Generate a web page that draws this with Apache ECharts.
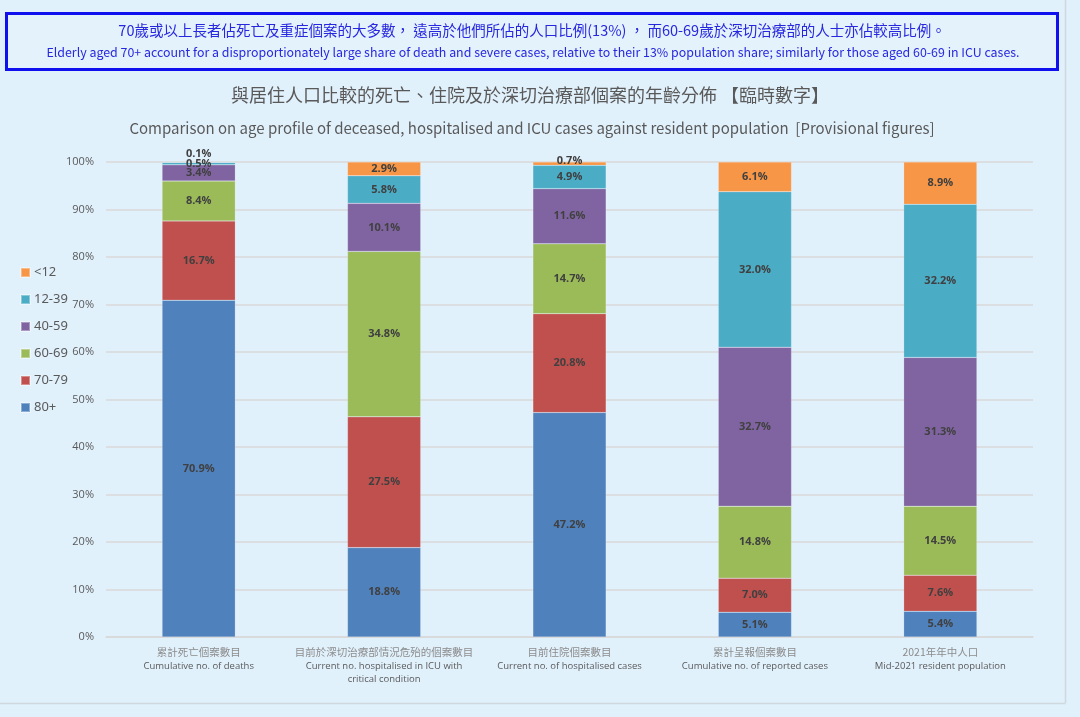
<!DOCTYPE html>
<html>
<head>
<meta charset="utf-8">
<script src="https://cdn.jsdelivr.net/npm/echarts@6/dist/echarts.min.js"></script>
<style>
html,body{margin:0;padding:0;background:#e1f1fc;}
#c{width:1080px;height:717px;}
</style>
</head>
<body>
<div id="c"></div>
<script>
const categoriesZh = ['累計死亡個案數目','目前於深切治療部情況危殆的個案數目','目前住院個案數目','累計呈報個案數目','2021年年中人口'];
const categoriesEn = ['Cumulative no. of deaths','Current no. hospitalised in ICU with\ncritical condition','Current no. of hospitalised cases','Cumulative no. of reported cases','Mid-2021 resident population'];
const ageGroups = ['80+','70-79','60-69','40-59','12-39','<12'];
const age80plus = [70.9, 18.8, 47.2, 5.1, 5.4];
const age70to79 = [16.7, 27.5, 20.8, 7.0, 7.6];
const age60to69 = [8.4, 34.8, 14.7, 14.8, 14.5];
const age40to59 = [3.4, 10.1, 11.6, 32.7, 31.3];
const age12to39 = [0.5, 5.8, 4.9, 32.0, 32.2];
const ageUnder12 = [0.1, 2.9, 0.7, 6.1, 8.9];
const yTicks = [0,10,20,30,40,50,60,70,80,90,100];

const seriesValues = [age80plus, age70to79, age60to69, age40to59, age12to39, ageUnder12];
const colors = ['#4f81bd','#c0504d','#9bbb59','#8064a2','#4bacc6','#f79646'];

// column totals for 100% stacking
const totals = categoriesZh.map((_, i) => seriesValues.reduce((s, arr) => s + arr[i], 0));

const chart = echarts.init(document.getElementById('c'));

const series = ageGroups.map((name, si) => ({
  name: name,
  type: 'bar',
  stack: 'total',
  barWidth: '39.5%',
  itemStyle: { color: colors[si], borderColor: 'rgba(255,255,255,0.35)', borderWidth: 0.5 },
  data: seriesValues[si].map((v, i) => {
    const item = { value: v / totals[i] * 100, raw: v };
    if (si === 5 && v < 1) {
      item.label = { position: 'top', distance: v < 0.3 ? 3 : -4 };
    }
    return item;
  }),
  label: {
    show: true,
    position: 'inside',
    color: '#404040',
    fontWeight: 'bold',
    fontSize: 11,
    fontFamily: 'Open Sans, Noto Sans, sans-serif',
    formatter: p => p.data.raw.toFixed(1) + '%'
  },
  emphasis: { disabled: true }
}));

const option = {
  backgroundColor: '#e1f1fc',
  animation: false,
  title: [
    {
      text: '與居住人口比較的死亡、住院及於深切治療部個案的年齡分佈 【臨時數字】',
      left: 525, top: 81, textAlign: 'center',
      textStyle: { color: '#595959', fontSize: 18, fontWeight: 'normal', fontFamily: 'Noto Sans CJK TC' }
    },
    {
      text: 'Comparison on age profile of deceased, hospitalised and ICU cases against resident population  [Provisional figures]',
      left: 527, top: 116, textAlign: 'center',
      textStyle: { color: '#595959', fontSize: 15, fontWeight: 'normal', fontFamily: 'Noto Sans CJK TC' }
    }
  ],
  legend: {
    orient: 'vertical',
    left: 15, top: 261,
    itemWidth: 9, itemHeight: 9, itemGap: 14,
    icon: 'rect',
    data: ['<12','12-39','40-59','60-69','70-79','80+'],
    textStyle: { color: '#595959', fontSize: 13, fontFamily: 'Noto Sans, sans-serif', padding: [0, 0, 0, -1] },
    selectedMode: false
  },
  grid: { left: 106, right: 47, top: 162, bottom: 80, containLabel: false },
  xAxis: {
    type: 'category',
    data: categoriesZh.map((z, i) => z + '\n' + categoriesEn[i]),
    axisLine: { lineStyle: { color: '#d9d9d9', width: 1.5 } },
    axisTick: { show: false },
    axisLabel: {
      interval: 0,
      margin: 8,
      lineHeight: 13,
      formatter: (val) => {
        const parts = val.split('\n');
        return '{a|' + parts[0] + '}\n' + parts.slice(1).map(p => '{b|' + p + '}').join('\n');
      },
      rich: {
        a: { color: '#8c8c8c', fontSize: 10.5, fontFamily: 'Noto Sans CJK TC', lineHeight: 15 },
        b: { color: '#595959', fontSize: 9.5, fontFamily: 'Open Sans, sans-serif', lineHeight: 13 }
      }
    }
  },
  yAxis: {
    type: 'value',
    min: yTicks[0], max: yTicks[yTicks.length - 1], interval: 10,
    axisLine: { show: false },
    axisTick: { show: false },
    splitLine: { lineStyle: { color: '#d9d9d9', width: 1.5 } },
    axisLabel: {
      margin: 12,
      color: '#595959', fontSize: 11, fontFamily: 'Open Sans, sans-serif',
      formatter: v => v + '%'
    }
  },
  graphic: [
    { type: 'rect', shape: { x: 6.5, y: 13.5, width: 1051, height: 56 },
      style: { fill: 'rgba(255,255,255,0.1)', stroke: '#1010ee', lineWidth: 3 } },
    { type: 'text', x: 532, y: 30, style: { text: '70歲或以上長者佔死亡及重症個案的大多數， 遠高於他們所佔的人口比例(13%) ， 而60-69歲於深切治療部的人士亦佔較高比例。',
      fill: '#2727e0', fontSize: 14.5, fontFamily: 'Noto Sans CJK TC', align: 'center', verticalAlign: 'middle' } },
    { type: 'text', x: 533, y: 52, style: { text: 'Elderly aged 70+ account for a disproportionately large share of death and severe cases, relative to their 13% population share; similarly for those aged 60-69 in ICU cases.',
      fill: '#2727e0', fontSize: 12.4, fontFamily: 'Noto Sans CJK TC', align: 'center', verticalAlign: 'middle' } },
    { type: 'line', shape: { x1: 1065.5, y1: 0, x2: 1065.5, y2: 703 }, style: { stroke: '#d0d8de', lineWidth: 1.5 } },
    { type: 'line', shape: { x1: 0, y1: 703.5, x2: 1065.5, y2: 703.5 }, style: { stroke: '#d0d8de', lineWidth: 1.5 } }
  ],
  series: series
};
chart.setOption(option);
</script>
</body>
</html>
